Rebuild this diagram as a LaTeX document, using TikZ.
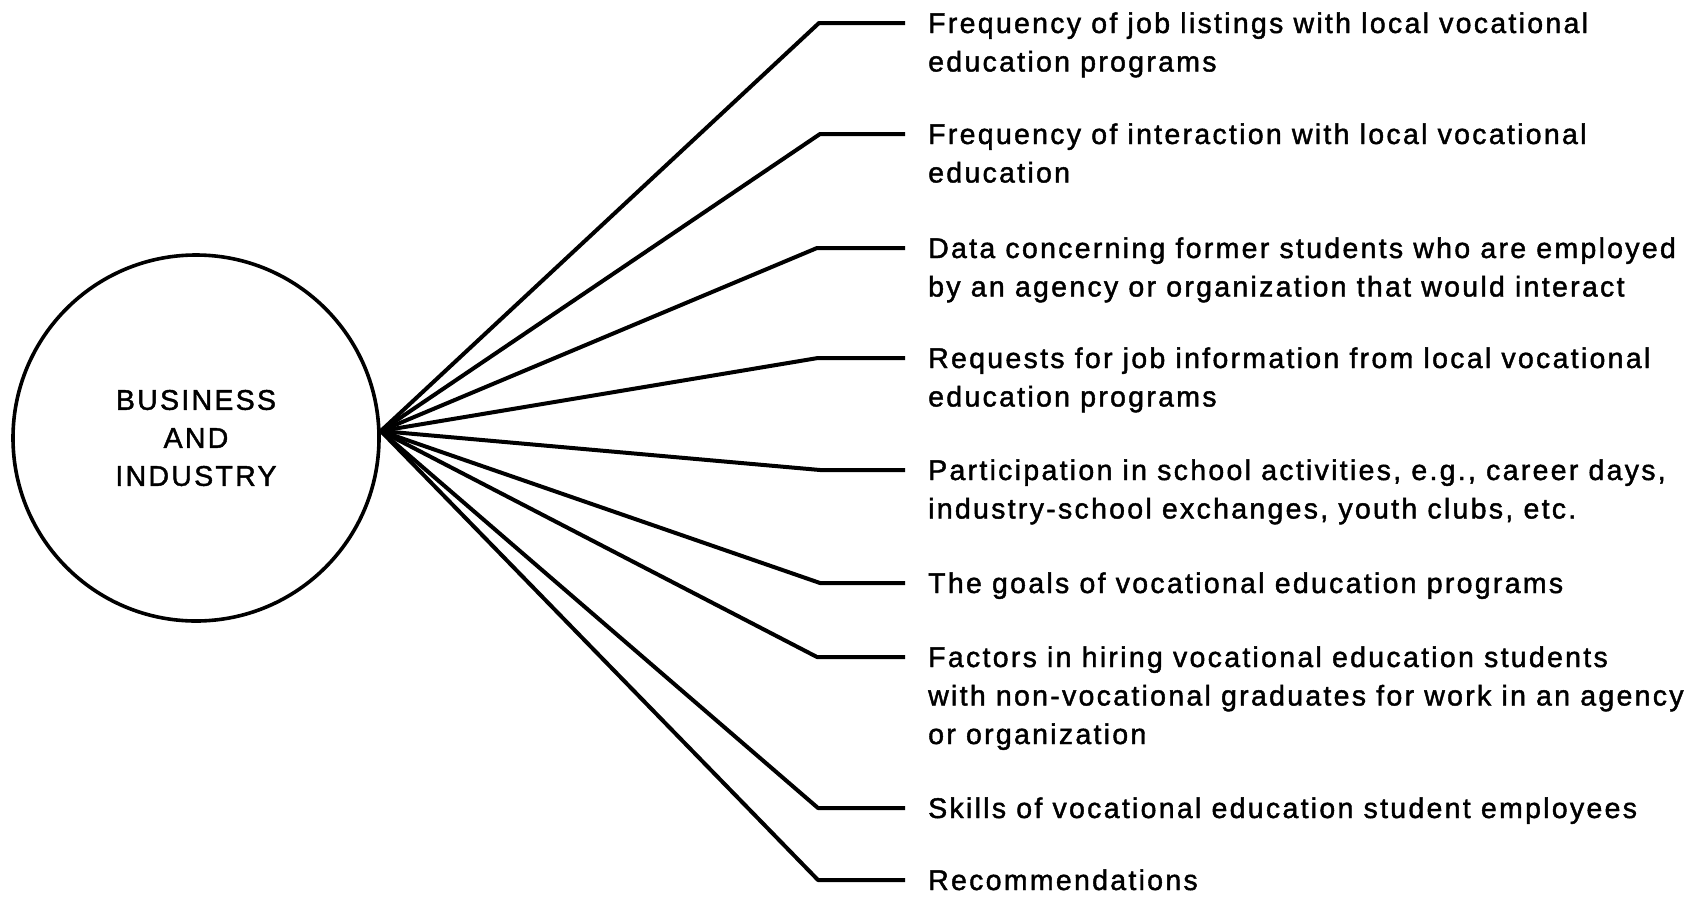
\documentclass[tikz,border=0pt]{standalone}
\usepackage{fontspec}
\setmainfont{Liberation Sans}[LetterSpace=8,FakeBold=1.5]
\begin{document}
\begin{tikzpicture}[x=1pt,y=-1pt,
  ring/.style={circle,draw,line width=3.6pt,minimum size=366pt,inner sep=0pt,
    align=center,font=\fontsize{28.5pt}{38pt}\selectfont},
  item/.style={anchor=base west,inner sep=0pt,align=left,
    font=\fontsize{28.5pt}{38.5pt}\selectfont},
  branch/.style={line width=4pt,line join=round,shorten >=23pt}]
\useasboundingbox (0,0) rectangle (1691,897);

% central entity
\node[ring] (bi) at (196,438) {BUSINESS\\AND\\INDUSTRY};
\coordinate (hub) at ([yshift=7pt]bi.east);

% elbows of the fan
\coordinate (k1) at (819,23);
\coordinate (k2) at (820,134);
\coordinate (k3) at (817,248);
\coordinate (k4) at (818,358);
\coordinate (k5) at (820,470);
\coordinate (k6) at (820,583);
\coordinate (k7) at (817,657);
\coordinate (k8) at (818,808);
\coordinate (k9) at (818,880);

% labels (base anchor sits on the last line of each block)
\node[item] (t1) at (928,71.5) {Frequency of job listings with local vocational\\education programs};
\node[item] (t2) at (928,182.5) {Frequency of interaction with local vocational\\education};
\node[item] (t3) at (928,296.5) {Data concerning former students who are employed\\by an agency or organization that would interact};
\node[item] (t4) at (928,406.5) {Requests for job information from local vocational\\education programs};
\node[item] (t5) at (928,518.5) {Participation in school activities, e.g., career days,\\industry-school exchanges, youth clubs, etc.};
\node[item] (t6) at (928,593) {The goals of vocational education programs};
\node[item] (t7) at (928,744) {Factors in hiring vocational education students\\with non-vocational graduates for work in an agency\\or organization};
\node[item] (t8) at (928,818) {Skills of vocational education student employees};
\node[item] (t9) at (928,890) {Recommendations};

% connectors
\foreach \i in {1,...,9}
  \draw[branch] (hub) -- (k\i) -- (k\i -| t\i.west);
\end{tikzpicture}
\end{document}
